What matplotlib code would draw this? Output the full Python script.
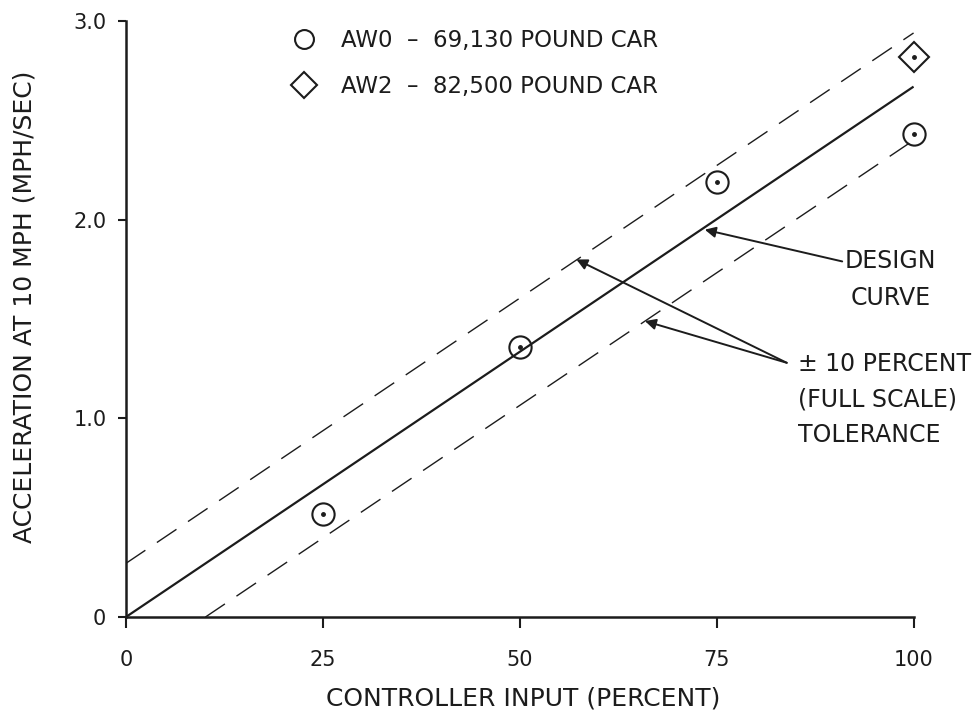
import matplotlib.pyplot as plt

# controller input (percent) and measured acceleration at 10 mph (mph/sec)
aw0_x = [25, 50, 75, 100]
aw0_y = [0.52, 1.36, 2.19, 2.43]
aw2_x = [100]
aw2_y = [2.82]

# design curve and the +/- 10 percent (full scale) tolerance band
design_x = [0, 100]
design_y = [0, 2.67]
upper_x = [0, 100]
upper_y = [0.27, 2.94]
lower_x = [10.1, 100]
lower_y = [0, 2.40]

xticks = [0, 25, 50, 75, 100]
yticks = [0, 1.0, 2.0, 3.0]
ytick_labels = ["0", "1.0", "2.0", "3.0"]

ink = "#1c1c1c"
plt.rcParams['font.family'] = ['DejaVu Sans']

fig = plt.figure(figsize=(9.75, 7.26), dpi=100)
ax = fig.add_axes([0.129, 0.150, 0.808, 0.821])

ax.plot(design_x, design_y, color=ink, lw=1.6, solid_capstyle='butt')
ax.plot(upper_x, upper_y, color=ink, lw=1.0, dashes=(17, 10))
ax.plot(lower_x, lower_y, color=ink, lw=1.0, dashes=(17, 10))

ax.plot(aw0_x, aw0_y, 'o', ms=16, mfc='none', mec=ink, mew=1.5, clip_on=False,
        label="AW0  \u2013  69,130 POUND CAR")
ax.plot(aw2_x, aw2_y, 'D', ms=15, mfc='none', mec=ink, mew=1.5, clip_on=False,
        label="AW2  \u2013  82,500 POUND CAR")
# small dots in the middle of each symbol
ax.plot(aw0_x + aw2_x, aw0_y + aw2_y, 'o', ms=2.5, color=ink, clip_on=False)

leg = ax.legend(loc='upper left', bbox_to_anchor=(0.212, 0.986), frameon=False,
                fontsize=16.5, handlelength=1.0, handletextpad=1.1,
                labelspacing=1.0, borderpad=0, borderaxespad=0, markerscale=0.85)
for t in leg.get_texts():
    t.set_color(ink)

ax.set_xlim(0, 100)
ax.set_ylim(0, 3.0)
ax.set_xticks(xticks)
ax.set_yticks(yticks)
ax.set_yticklabels(ytick_labels)
ax.spines['top'].set_visible(False)
ax.spines['right'].set_visible(False)
for s in ['left', 'bottom']:
    ax.spines[s].set_linewidth(1.8)
    ax.spines[s].set_color(ink)
ax.tick_params(axis='x', direction='out', length=8, width=1.5, pad=16,
               labelsize=15, colors=ink)
ax.tick_params(axis='y', direction='out', length=6, width=1.5, pad=8,
               labelsize=15, colors=ink)

ax.set_xlabel("CONTROLLER INPUT (PERCENT)", fontsize=18, color=ink)
ax.xaxis.set_label_coords(0.505, -0.117)
ax.set_ylabel("ACCELERATION AT 10 MPH (MPH/SEC)", fontsize=18, color=ink)
ax.yaxis.set_label_coords(-0.113, 0.52)

arrow = dict(arrowstyle='-|>', color=ink, lw=1.4, mutation_scale=16,
             shrinkA=0, shrinkB=0)

ax.annotate("DESIGN\nCURVE", xy=(73.5, 1.95), xytext=(97.1, 1.70),
            ha='center', va='center', fontsize=17, color=ink,
            linespacing=1.72, annotation_clip=False,
            arrowprops=dict(arrow, relpos=(0.0, 0.78)))

ax.text(85.3, 1.095, "\u00b1 10 PERCENT\n(FULL SCALE)\nTOLERANCE",
        ha='left', va='center', fontsize=17, color=ink, linespacing=1.62)
for tx, ty in [(57.2, 1.80), (65.9, 1.49)]:
    ax.annotate("", xy=(tx, ty), xytext=(83.9, 1.28),
                arrowprops=arrow, annotation_clip=False)

fig.savefig("out.png", dpi=100)
